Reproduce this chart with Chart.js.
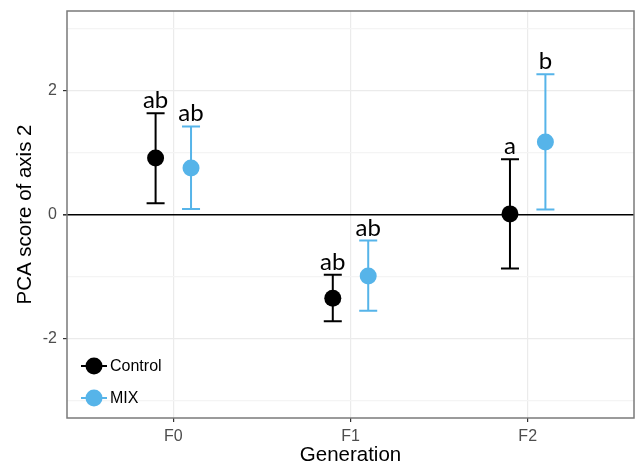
<!DOCTYPE html>
<html>
<head>
<meta charset="utf-8">
<script src="https://cdn.jsdelivr.net/npm/chart.js@4.4.1/dist/chart.umd.min.js"></script>
<style>
  html, body { margin: 0; padding: 0; background: #fff; }
  #wrap { width: 635px; height: 468px; position: relative; }
</style>
</head>
<body>
<div id="wrap"><canvas id="chart"></canvas></div>
<script>
// Data
const categories = ['F0', 'F1', 'F2'];
const groups = ['Control', 'MIX'];
const groupColors = ['#000000', '#56B4E9'];
const controlMean = [0.91, -1.35, 0.01];
const controlLow = [0.18, -1.72, -0.87];
const controlHigh = [1.63, -0.97, 0.89];
const mixMean = [0.75, -0.99, 1.17];
const mixLow = [0.09, -1.55, 0.08];
const mixHigh = [1.42, -0.42, 2.26];
const controlLetters = ['ab', 'ab', 'a'];
const mixLetters = ['ab', 'ab', 'b'];
const yTicks = [-3, -2, -1, 0, 1, 2, 3];
const dodge = 0.1;

const series = [
    { mean: controlMean, low: controlLow, high: controlHigh, letters: controlLetters, shift: -dodge },
    { mean: mixMean, low: mixLow, high: mixHigh, letters: mixLetters, shift: dodge }
];

/**
 * Error bars, letters, panel border and inside legend
 */
const extras = {
    id: 'extras',
    beforeDatasetsDraw(chart) {
        const { ctx, scales: { x, y } } = chart;
        ctx.save();
        series.forEach((s, si) => {
            ctx.strokeStyle = groupColors[si];
            ctx.lineWidth = 2;
            s.mean.forEach((m, i) => {
                const px = x.getPixelForValue(i + s.shift);
                const yl = y.getPixelForValue(s.low[i]);
                const yh = y.getPixelForValue(s.high[i]);
                ctx.beginPath();
                ctx.moveTo(px, yl); ctx.lineTo(px, yh);
                ctx.moveTo(px - 9, yl); ctx.lineTo(px + 9, yl);
                ctx.moveTo(px - 9, yh); ctx.lineTo(px + 9, yh);
                ctx.stroke();
            });
        });
        ctx.restore();
    },
    afterDatasetsDraw(chart) {
        const { ctx, chartArea: a, scales: { x, y } } = chart;
        ctx.save();
        // letters above the upper caps
        ctx.fillStyle = '#000';
        ctx.font = '24px Lato';
        ctx.textAlign = 'center';
        ctx.textBaseline = 'alphabetic';
        series.forEach(s => {
            s.letters.forEach((t, i) => {
                ctx.fillText(t, x.getPixelForValue(i + s.shift), y.getPixelForValue(s.high[i]) - 5);
            });
        });
        // panel border
        ctx.strokeStyle = '#7a7a7a';
        ctx.lineWidth = 1.5;
        ctx.strokeRect(a.left, a.top, a.right - a.left, a.bottom - a.top);
        // legend inside the panel
        ctx.font = '16px "Liberation Sans", Arial, sans-serif';
        ctx.textAlign = 'left';
        ctx.textBaseline = 'middle';
        groups.forEach((g, i) => {
            const cy = a.bottom - 52 + i * 32;
            const cx = a.left + 27;
            ctx.strokeStyle = groupColors[i];
            ctx.fillStyle = groupColors[i];
            ctx.lineWidth = 2;
            ctx.beginPath();
            ctx.moveTo(cx - 13, cy); ctx.lineTo(cx + 13, cy);
            ctx.stroke();
            ctx.beginPath();
            ctx.arc(cx, cy, 8.5, 0, Math.PI * 2);
            ctx.fill();
            ctx.fillStyle = '#000';
            ctx.fillText(g, cx + 16, cy + 1);
        });
        ctx.restore();
    }
};

const datasets = series.map((s, si) => ({
    label: groups[si],
    data: s.mean.map((m, i) => ({ x: i + s.shift, y: m })),
    backgroundColor: groupColors[si],
    borderColor: groupColors[si],
    pointRadius: 8.5,
    pointHoverRadius: 8.5,
    borderWidth: 0
}));

const axisFont = { family: '"Liberation Sans", Arial, sans-serif', size: 16 };
const titleFont = { family: '"Liberation Sans", Arial, sans-serif', size: 20.5 };

// no extra room for tick labels sticking out past the panel
function noPad(scale) {
    scale.paddingTop = 0;
    scale.paddingBottom = 0;
    scale.paddingLeft = 0;
    scale.paddingRight = 0;
}

new Chart(document.getElementById('chart'), {
    type: 'scatter',
    data: { datasets },
    plugins: [extras],
    options: {
        responsive: true,
        maintainAspectRatio: false,
        animation: false,
        layout: { autoPadding: false, padding: { top: 11, right: 1, left: 0, bottom: 0 } },
        plugins: { legend: { display: false }, tooltip: { enabled: false } },
        scales: {
            x: {
                type: 'linear',
                min: -0.6,
                max: 2.6,
                afterBuildTicks: scale => { scale.ticks = categories.map((c, i) => ({ value: i })); },
                afterFit: scale => { scale.height = 50; noPad(scale); },
                ticks: {
                    autoSkip: false,
                    maxRotation: 0,
                    padding: 5,
                    color: '#4d4d4d',
                    font: axisFont,
                    callback: v => categories[v]
                },
                grid: { color: '#ebebeb', lineWidth: 1.2, tickColor: '#333', tickLength: 4 },
                border: { display: false },
                title: { display: true, text: 'Generation', color: '#000', font: titleFont, padding: { top: 0, bottom: 0 } }
            },
            y: {
                min: -3.28,
                max: 3.28,
                afterBuildTicks: scale => { scale.ticks = yTicks.map(v => ({ value: v })); },
                afterFit: scale => { scale.width = 67; noPad(scale); },
                ticks: {
                    padding: 6,
                    color: '#4d4d4d',
                    font: axisFont,
                    callback: v => (v % 2 === 0 ? String(v) : '')
                },
                grid: {
                    color: c => (c.tick.value === 0 ? '#000' : (c.tick.value % 2 === 0 ? '#ebebeb' : '#f4f4f4')),
                    lineWidth: c => (c.tick.value === 0 ? 1.6 : 1.2),
                    tickColor: c => (c.tick.value % 2 === 0 ? '#333' : 'rgba(0,0,0,0)'),
                    tickLength: 4
                },
                border: { display: false },
                title: { display: true, text: 'PCA score of axis 2', color: '#000', font: titleFont, padding: { top: 13, bottom: 0 } }
            }
        }
    }
});
</script>
</body>
</html>
